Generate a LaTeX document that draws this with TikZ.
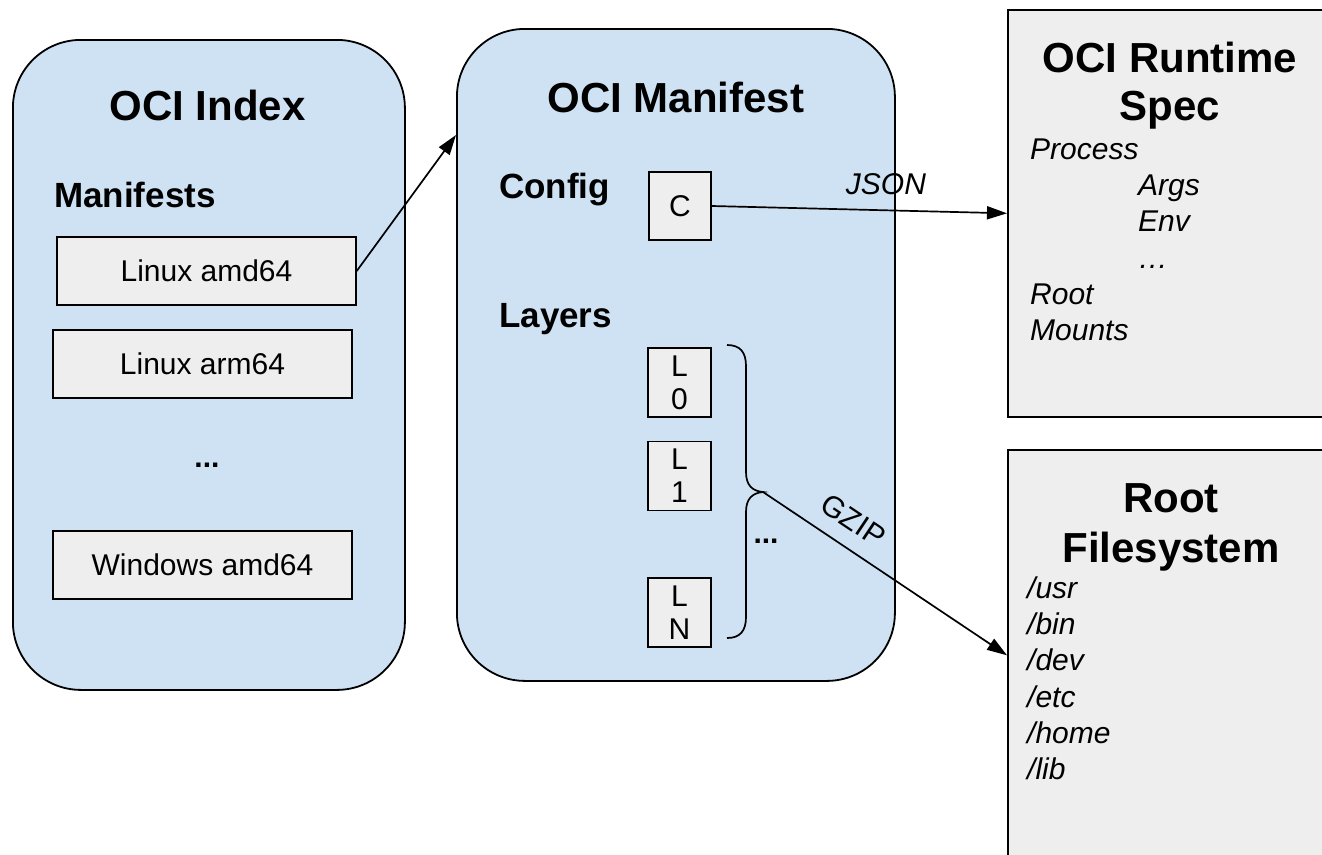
\documentclass[tikz,border=0pt]{standalone}
\usepackage{fontspec}
\setmainfont{Liberation Sans}
\usetikzlibrary{arrows.meta}
\definecolor{blueF}{HTML}{CFE2F3}
\definecolor{greyF}{HTML}{EEEEEE}
\begin{document}
\begin{tikzpicture}[x=1pt,y=-1pt,
  bigbox/.style={draw, line width=1.8pt, fill=blueF, rounded corners=68pt, inner sep=0pt, anchor=north west},
  gbox/.style={draw, line width=1.5pt, fill=greyF, inner sep=0pt, align=center, font=\fontsize{30}{33}\selectfont},
  sheet/.style={draw, line width=1.6pt, fill=greyF, inner sep=0pt, anchor=north west},
  ttl/.style={inner sep=0pt, anchor=base, font=\fontsize{42}{48}\selectfont\bfseries},
  sub/.style={inner sep=0pt, anchor=base west, font=\fontsize{35}{40}\selectfont\bfseries},
  itm/.style={inner sep=0pt, anchor=base west, font=\fontsize{30}{34}\selectfont\itshape},
  dots/.style={inner sep=0pt, anchor=base, font=\fontsize{30}{34}\selectfont\bfseries},
  conn/.style={line width=1.7pt, -{Triangle[length=20pt,width=13pt]}},
  lbl/.style={inner sep=0pt, font=\fontsize{30}{34}\selectfont}
]
\useasboundingbox (0,0) rectangle (1322,854);
\clip (0,0) rectangle (1322,854);
\fill[white] (0,0) rectangle (1322,854);

% big rounded boxes
\node[bigbox, minimum width=392pt, minimum height=650pt] (idx) at (12,39) {};
\node[bigbox, minimum width=438pt, minimum height=652pt] (man) at (456,28) {};

% right sheets
\node[sheet, minimum width=323pt, minimum height=407pt] (rt) at (1007,9) {};
\node[sheet, minimum width=323pt, minimum height=411pt] (rfs) at (1007,449) {};

% OCI Index content
\node[ttl] (idxt) at (207.5,120) {OCI Index};
\node[sub] (mfs) at (54,207) {Manifests};
\node[gbox, minimum width=299pt, minimum height=68pt] (lamd) at (206.5,271) {Linux amd64};
\node[gbox, minimum width=299pt, minimum height=68pt] (larm) at (202.5,364) {Linux arm64};
\node[dots] (idxdots) at (207,467) {...};
\node[gbox, minimum width=299pt, minimum height=68pt] (lwin) at (202.5,565) {Windows amd64};

% OCI Manifest content
\node[ttl] (mant) at (676,112) {OCI Manifest};
\node[sub] (cfg) at (499,198) {Config};
\node[sub] (lay) at (499,327) {Layers};
\node[gbox, minimum width=62pt, minimum height=68pt] (cbox) at (680,206) {C};
\node[gbox, minimum width=63pt, minimum height=69pt] (l0) at (679.5,382.5) {L\\0};
\node[gbox, minimum width=63pt, minimum height=69pt] (l1) at (679.5,476) {L\\1};
\node[gbox, minimum width=63pt, minimum height=69pt] (ln) at (679.5,612.5) {L\\N};
\node[dots] (mandots) at (766,543) {...};

% brace
\coordinate (btip) at (763,492);
\draw[line width=1.7pt] (727,345) .. controls (740,345) and (746,352) .. (746,366)
  -- (746,472) .. controls (746,485) and (752,491) .. (btip)
  .. controls (752,493) and (746,499) .. (746,512)
  -- (746,617) .. controls (746,631) and (740,638) .. (727,638);

% OCI Runtime Spec content
\node[ttl] (rtt1) at (1170,72) {OCI Runtime};
\node[ttl] (rtt2) at (1170,120) {Spec};
\node[itm] (rp) at (1030,159) {Process};
\node[itm] (ra) at (1138,195) {Args};
\node[itm] (re) at (1138,231) {Env};
\node[itm] (rd) at (1138,268) {\dots};
\node[itm] (rr) at (1030,304) {Root};
\node[itm] (rm) at (1030,340) {Mounts};

% Root Filesystem content
\node[ttl] (rft1) at (1171,512) {Root};
\node[ttl] (rft2) at (1171,562) {Filesystem};
\node[itm] (f1) at (1027,598) {/usr};
\node[itm] (f2) at (1027,634) {/bin};
\node[itm] (f3) at (1027,670) {/dev};
\node[itm] (f4) at (1027,707) {/etc};
\node[itm] (f5) at (1027,743) {/home};
\node[itm] (f6) at (1027,779) {/lib};

% connectors
\coordinate (mantgt) at (456,135);
\draw[conn] (lamd.east) -- (mantgt);
\draw[conn] (cbox.east) -- node[lbl, pos=0.59, above=15pt, font=\fontsize{30}{34}\selectfont\itshape] {JSON} (rt.west);
\draw[conn] (btip) -- node[lbl, pos=0.31, sloped, above=15pt] {GZIP} (rfs.west);
\end{tikzpicture}
\end{document}
